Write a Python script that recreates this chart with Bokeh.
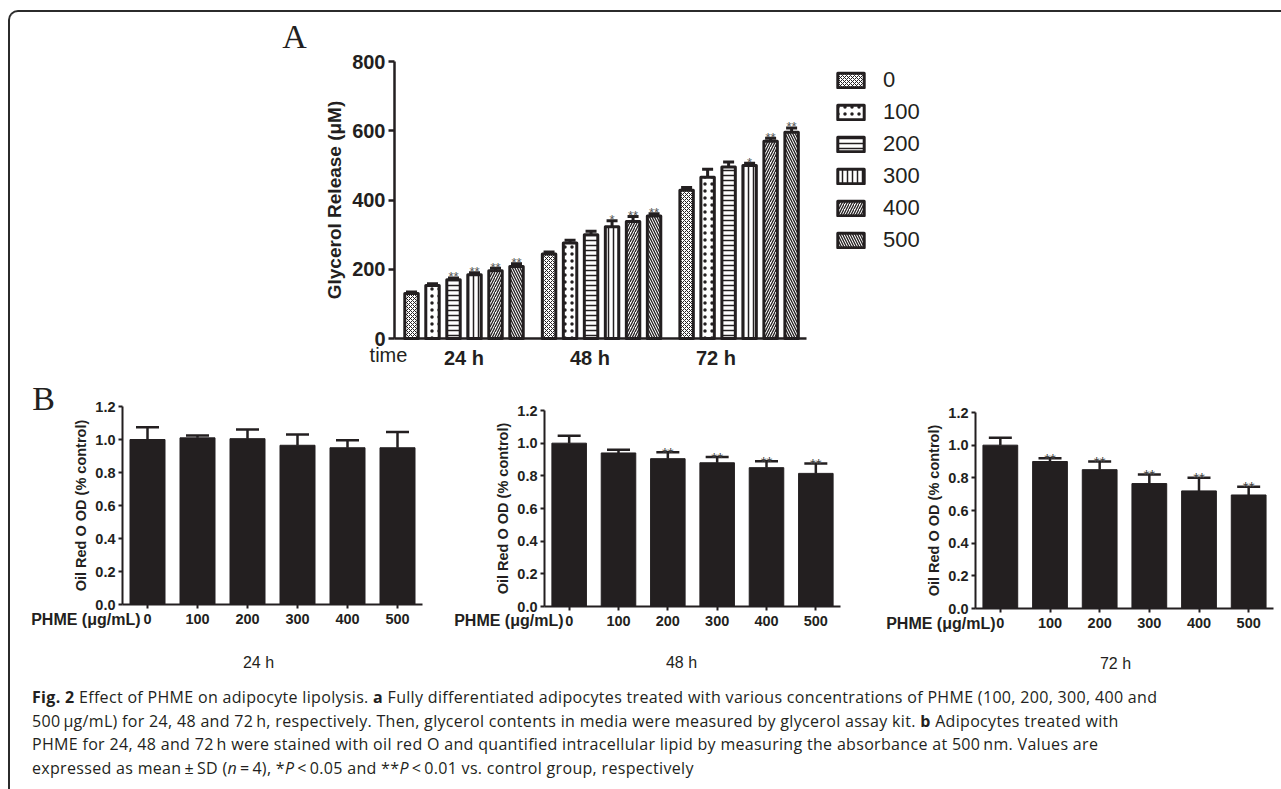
from bokeh.plotting import figure
from bokeh.models import (Range1d, FixedTicker, Whisker, TeeHead, ColumnDataSource,
                          Legend, LegendItem, Label, Div, Spacer, PrintfTickFormatter)
from bokeh.layouts import row, column
from bokeh.embed import file_html
from bokeh.resources import INLINE
from bokeh.core.properties import value

INK = "#231f20"
SANS = "Liberation Sans"
SERIF = "Liberation Serif"

# ---------------- data ----------------
times = ["24 h", "48 h", "72 h"]
doses = ["0", "100", "200", "300", "400", "500"]

# Panel A: glycerol release (uM)
glycerol_24h = [130, 153, 170, 184, 196, 208]
glycerol_48h = [244, 276, 300, 323, 338, 354]
glycerol_72h = [428, 466, 495, 500, 570, 596]
glycerol_sd_24h = [4, 5, 5, 6, 7, 8]
glycerol_sd_48h = [6, 8, 10, 17, 14, 6]
glycerol_sd_72h = [8, 23, 15, 6, 8, 12]
stars_a_24h = ["", "", "**", "**", "**", "**"]
stars_a_48h = ["", "", "", "*", "**", "**"]
stars_a_72h = ["", "", "", "*", "**", "**"]

# Panel B: Oil Red O OD (% control)
oil_24h = [1.00, 1.01, 1.005, 0.965, 0.95, 0.95]
oil_sd_24h = [0.075, 0.015, 0.055, 0.065, 0.045, 0.095]
oil_48h = [1.00, 0.94, 0.905, 0.88, 0.85, 0.815]
oil_sd_48h = [0.045, 0.02, 0.04, 0.035, 0.04, 0.06]
oil_72h = [1.00, 0.90, 0.85, 0.765, 0.72, 0.695]
oil_sd_72h = [0.045, 0.02, 0.05, 0.055, 0.08, 0.05]
stars_b_24h = ["", "", "", "", "", ""]
stars_b_48h = ["", "", "**", "**", "**", "**"]
stars_b_72h = ["", "**", "**", "**", "**", "**"]

caption_lines = [
    "<b>Fig. 2</b> Effect of PHME on adipocyte lipolysis. <b>a</b> Fully differentiated adipocytes treated with various concentrations of PHME (100, 200, 300, 400 and",
    "500&thinsp;&mu;g/mL) for 24, 48 and 72&thinsp;h, respectively. Then, glycerol contents in media were measured by glycerol assay kit. <b>b</b> Adipocytes treated with",
    "PHME for 24, 48 and 72&thinsp;h were stained with oil red O and quantified intracellular lipid by measuring the absorbance at 500&thinsp;nm. Values are",
    "expressed as mean&thinsp;&plusmn;&thinsp;SD (<i>n</i>&thinsp;=&thinsp;4), *<i>P</i>&thinsp;&lt;&thinsp;0.05 and **<i>P</i>&thinsp;&lt;&thinsp;0.01 vs. control group, respectively",
]

# ---------------- styling ----------------
hatch_styles = [
    ("diagonal_cross", 4, 1.0),
    ("dot", 7, 3.0),
    ("horizontal_line", 5, 1.5),
    ("vertical_line", 5, 1.5),
    ("right_diagonal_line", 5, 1.3),
    ("left_diagonal_line", 5, 1.3),
]
GROUP_PITCH = 6.55


def canvas_fig(geom, x_at, px_x, ppu_x, y_at, px_y, ppu_y):
    """Figure whose frame is the whole canvas; geom = (left, top, w, h) in page px."""
    cx0, cy0, w, h = geom
    xs = x_at - (px_x - cx0) / ppu_x
    ys = y_at - ((cy0 + h) - px_y) / ppu_y
    p = figure(width=w, height=h, x_range=Range1d(xs, xs + w / ppu_x),
               y_range=Range1d(ys, ys + h / ppu_y), title=None,
               output_backend="svg", toolbar_location=None, min_border=0)
    p.outline_line_color = None
    p.xgrid.grid_line_color = None
    p.ygrid.grid_line_color = None
    p.background_fill_color = None
    p.border_fill_color = None
    return p


def page_label(p, geom, X, Y, text, **kw):
    cx0, cy0, w, h = geom
    p.add_layout(Label(x=X - cx0, y=(cy0 + h) - Y, x_units="screen", y_units="screen",
                       text=text, text_color=INK, **kw))


def style_axis(ax, tick_font, tick_out, standoff, lw):
    ax.major_label_text_font = SANS
    ax.major_label_text_font_style = "bold"
    ax.major_label_text_font_size = tick_font
    ax.major_label_text_color = INK
    ax.major_label_standoff = standoff
    ax.major_tick_out = tick_out
    ax.major_tick_in = 0
    ax.minor_tick_line_color = None
    ax.axis_line_width = lw
    ax.axis_line_color = INK
    ax.major_tick_line_width = lw
    ax.major_tick_line_color = INK


# ---------------- Panel A ----------------
geomA = (260, 12, 700, 363)
X0_A = -0.81
pA = canvas_fig(geomA, X0_A, 394, 21.0, 0, 338, 277 / 800)

group_means = [glycerol_24h, glycerol_48h, glycerol_72h]
group_sds = [glycerol_sd_24h, glycerol_sd_48h, glycerol_sd_72h]
group_stars = [stars_a_24h, stars_a_48h, stars_a_72h]

legend_items = []
wx, wlo, whi, wst = [], [], [], []
for i, d in enumerate(doses):
    xs = [g * GROUP_PITCH + i for g in range(len(times))]
    tops = [group_means[g][i] for g in range(len(times))]
    pat, sc, wt = hatch_styles[i]
    r = pA.vbar(x=xs, top=tops, bottom=0, width=0.64, fill_color="white",
                line_color=INK, line_width=3, line_join="round",
                hatch_pattern=pat, hatch_scale=sc, hatch_weight=wt, hatch_color=INK)
    legend_items.append(LegendItem(label=d, renderers=[r]))
    for g in range(len(times)):
        wx.append(xs[g])
        wlo.append(tops[g])
        whi.append(tops[g] + group_sds[g][i])
        wst.append(group_stars[g][i])

srcA = ColumnDataSource(dict(x=wx, lo=wlo, hi=whi, st=wst))
pA.add_layout(Whisker(source=srcA, base="x", lower="lo", upper="hi", dimension="height",
                      lower_head=None,
                      upper_head=TeeHead(size=11, line_width=3, line_color=INK),
                      line_width=3, line_color=INK))
pA.text(x="x", y="hi", text="st", source=srcA, text_font=value(SANS), text_font_size="13px",
        text_color="#555555", text_align="center", text_baseline="alphabetic", y_offset=-1)

# legend: glyphs start at page x=834, first glyph top at page y=67
legend = Legend(items=legend_items, location=(834 - geomA[0], (geomA[1] + geomA[3]) - 253),
                orientation="vertical", glyph_width=33, glyph_height=18,
                label_text_font=SANS, label_text_font_size="22px", label_text_color=INK,
                label_standoff=16, spacing=6, padding=0, margin=0,
                border_line_color=None, background_fill_alpha=0)
pA.add_layout(legend)

ya = pA.yaxis[0]
ya.fixed_location = X0_A
ya.bounds = (0, 800)
ya.ticker = FixedTicker(ticks=[0, 200, 400, 600, 800])
ya.axis_label = "Glycerol Release (\u03bcM)"
ya.axis_label_text_font = SANS
ya.axis_label_text_font_style = "bold"
ya.axis_label_text_font_size = "19px"
ya.axis_label_text_color = INK
ya.axis_label_standoff = 4
style_axis(ya, "20px", 6, 3, 2.5)

xa = pA.xaxis[0]
xa.fixed_location = 0
xa.bounds = (X0_A, X0_A + 412 / 21.0)
tick_pos = [g * 6.0 + 2.5 for g in range(len(times))]
xa.ticker = FixedTicker(ticks=tick_pos)
xa.major_label_overrides = {t: lab for t, lab in zip(tick_pos, times)}
style_axis(xa, "20px", 0, 8, 2.5)
xa.major_tick_line_color = None

page_label(pA, geomA, 388, 354, "time", text_font=SANS, text_font_size="20px",
           text_align="center", text_baseline="middle")
page_label(pA, geomA, 294, 36, "A", text_font=SERIF, text_font_size="34px",
           text_align="center", text_baseline="middle")


# ---------------- Panel B ----------------
def panel_b(geom, x0px, pitch, y0px, ppu_y, means, sds, stars, tlabel, phme_right, phme_y,
            tl_pos, letter=None):
    p = canvas_fig(geom, -0.5, x0px, pitch, 0, y0px, ppu_y)
    xs = list(range(len(doses)))
    p.vbar(x=xs, top=means, bottom=0, width=0.7, fill_color=INK, line_color=INK, line_width=1)
    hi = [m + s for m, s in zip(means, sds)]
    src = ColumnDataSource(dict(x=xs, lo=means, hi=hi, st=stars))
    p.add_layout(Whisker(source=src, base="x", lower="lo", upper="hi", dimension="height",
                         lower_head=None,
                         upper_head=TeeHead(size=23, line_width=2.5, line_color=INK),
                         line_width=2.5, line_color=INK))
    p.text(x="x", y="hi", text="st", source=src, text_font=value(SANS), text_font_size="15px",
           text_color="#444444", text_align="center", text_baseline="alphabetic", y_offset=0)

    y = p.yaxis[0]
    y.fixed_location = -0.5
    y.bounds = (0, 1.2)
    y.ticker = FixedTicker(ticks=[0, 0.2, 0.4, 0.6, 0.8, 1.0, 1.2])
    y.formatter = PrintfTickFormatter(format="%.1f")
    y.axis_label = "Oil Red O OD (% control)"
    y.axis_label_text_font = SANS
    y.axis_label_text_font_style = "bold"
    y.axis_label_text_font_size = "14.5px"
    y.axis_label_text_color = INK
    y.axis_label_standoff = 3
    style_axis(y, "14.5px", 4, 3, 2)

    x = p.xaxis[0]
    x.fixed_location = 0
    x.bounds = (-0.5, 5.5)
    x.ticker = FixedTicker(ticks=xs)
    x.major_label_overrides = {i: d for i, d in enumerate(doses)}
    style_axis(x, "14.5px", 4, 5, 2)

    page_label(p, geom, phme_right, phme_y, "PHME (\u03bcg/mL)", text_font=SANS,
               text_font_style="bold", text_font_size="16px",
               text_align="right", text_baseline="middle")
    page_label(p, geom, tl_pos[0], tl_pos[1], tlabel, text_font=SANS, text_font_size="16px",
               text_align="center", text_baseline="middle")
    if letter:
        page_label(p, geom, 43, 398, letter, text_font=SERIF, text_font_size="34px",
                   text_align="center", text_baseline="middle")
    return p


pB1 = panel_b((10, 375, 422, 305), 122, 50.0, 604, 165.0, oil_24h, oil_sd_24h, stars_b_24h,
              times[0], 140, 619, (258, 662), letter="B")
pB2 = panel_b((432, 375, 420, 305), 544, 296 / 6, 606, 196 / 1.2, oil_48h, oil_sd_48h,
              stars_b_48h, times[1], 563, 620, (681, 662))
pB3 = panel_b((852, 375, 427, 305), 975, 298 / 6, 608, 196 / 1.2, oil_72h, oil_sd_72h,
              stars_b_72h, times[2], 995, 623, (1115, 663))

caption = Div(
    text=('<div style="font-family:\'Open Sans\'; font-size:16px; letter-spacing:0.32px;'
          ' line-height:23.7px; color:#231f20; padding:1px 0 0 17px; white-space:nowrap;">'
          + "<br>".join(caption_lines) + "</div>"),
    width=1269, height=104)

inner = column(
    row(Spacer(width=250, height=363), pA),
    row(pB1, pB2, pB3),
    caption,
    styles={"border-top": "2px solid #2b2b2b", "border-left": "2px solid #2b2b2b",
            "border-top-left-radius": "10px"},
)
layout = column(Spacer(width=10, height=10), row(Spacer(width=8, height=10), inner))

open("out.html", "w").write(file_html(layout, INLINE))
